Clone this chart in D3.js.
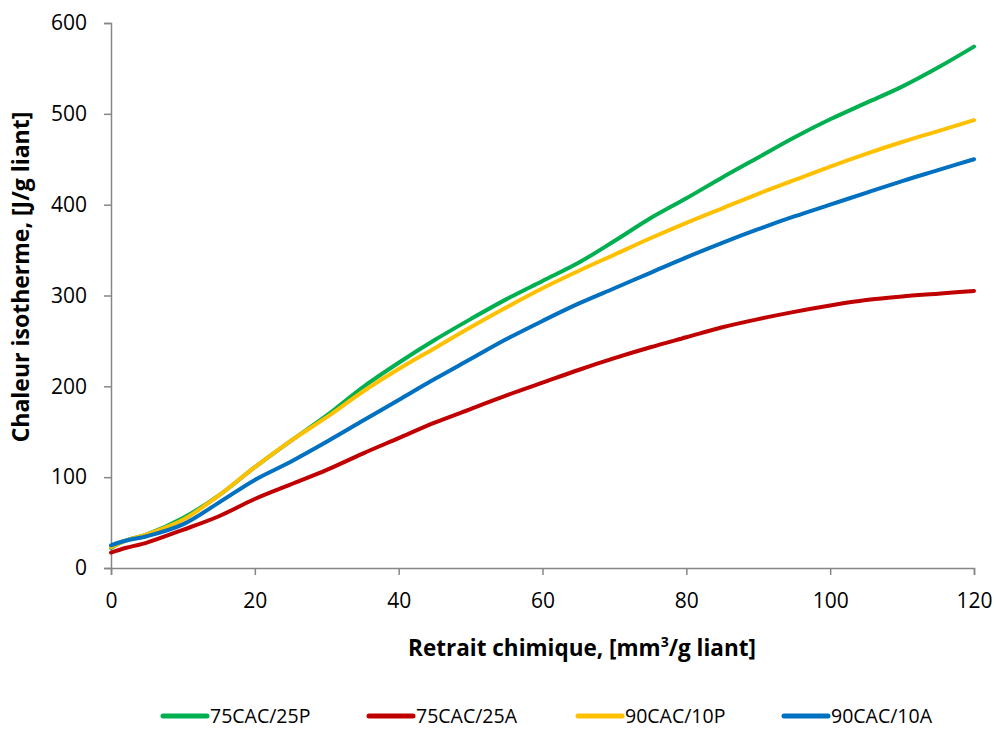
<!DOCTYPE html>
<html>
<head>
<meta charset="utf-8">
<script src="https://cdn.jsdelivr.net/npm/d3@7"></script>
<style>
  html, body { margin: 0; padding: 0; background: #fff; }
  svg { display: block; }
  text { font-family: "Open Sans", "Noto Sans", sans-serif; fill: #000; }
</style>
</head>
<body>
<svg id="chart" width="997" height="729"></svg>
<script>
const xValues = [0, 2, 5, 10, 15, 20, 25, 30, 35, 40, 45, 50, 55, 60, 65, 70, 75, 80, 85, 90, 95, 100, 105, 110, 115, 120];
const green75P  = [22, 30, 37, 55, 80, 111, 140, 168, 199, 226, 251, 274, 296, 316, 336, 360, 385, 407, 430, 452, 474, 494, 512, 530, 551, 574];
const red75A    = [17, 22, 28, 42, 57, 76, 92, 108, 126, 143, 160, 175, 190, 204, 218, 231, 243, 254, 265, 274, 282, 289, 295, 299, 302, 305];
const yellow90P = [23, 30, 37, 53, 80, 111, 140, 166, 194, 219, 242, 265, 287, 308, 327, 345, 363, 380, 396, 412, 427, 442, 456, 469, 481, 493];
const blue90A   = [25, 30, 35, 48, 72, 97, 117, 139, 162, 185, 208, 230, 252, 272, 291, 308, 325, 342, 358, 373, 387, 400, 413, 426, 438, 450];
const seriesNames = ["75CAC/25P", "75CAC/25A", "90CAC/10P", "90CAC/10A"];
const seriesColors = ["#00B050", "#C00000", "#FFC000", "#0070C0"];
const xTicks = [0, 20, 40, 60, 80, 100, 120];
const yTicks = [0, 100, 200, 300, 400, 500, 600];

(function () {
const seriesValues = [green75P, red75A, yellow90P, blue90A];
const series = seriesNames.map((name, i) => ({
  name, color: seriesColors[i],
  points: xValues.map((xv, j) => ({x: xv, y: seriesValues[i][j]}))
}));

const svg = d3.select("#chart");
const mLeft = 111, mRight = 974, mTop = 23, mBottom = 568;

const x = d3.scaleLinear().domain([0, 120]).range([mLeft, mRight]);
const y = d3.scaleLinear().domain([0, 600]).range([mBottom, mTop]);

const axisColor = "#868686";

const xAxis = svg.append("g").attr("transform", `translate(0,${mBottom})`)
  .call(d3.axisBottom(x).tickValues(xTicks).tickSize(7).tickPadding(18).tickFormat(d3.format("d")));
const yAxis = svg.append("g").attr("transform", `translate(${mLeft},0)`)
  .call(d3.axisLeft(y).tickValues(yTicks).tickSize(7).tickPadding(17).tickFormat(d3.format("d")));

[xAxis, yAxis].forEach(g => {
  g.select(".domain").attr("stroke", axisColor).attr("stroke-width", 1.5);
  g.selectAll(".tick line").attr("stroke", axisColor).attr("stroke-width", 1.5);
  g.selectAll(".tick text").attr("font-size", 21).attr("fill", "#000")
    .style("font-family", '"Open Sans", sans-serif');
});

const line = d3.line().x(d => x(d.x)).y(d => y(d.y)).curve(d3.curveCatmullRom.alpha(0.5));

svg.append("g").selectAll("path").data(series).join("path")
  .attr("d", d => line(d.points))
  .attr("fill", "none")
  .attr("stroke", d => d.color)
  .attr("stroke-width", 4)
  .attr("stroke-linecap", "round")
  .attr("stroke-linejoin", "round");

// Axis titles
const xt = svg.append("text")
  .attr("x", 582)
  .attr("y", 656)
  .attr("text-anchor", "middle")
  .attr("font-size", 22.5)
  .attr("font-weight", "bold");
xt.append("tspan").text("Retrait chimique, [mm");
xt.append("tspan").text("3").attr("font-size", 14).attr("dy", -9);
xt.append("tspan").text("/g liant]").attr("dy", 9);

svg.append("text")
  .attr("transform", `translate(29,277) rotate(-90)`)
  .attr("text-anchor", "middle")
  .attr("font-size", 23)
  .attr("font-weight", "bold")
  .text("Chaleur isotherme, [J/g liant]");

// Legend
const legendX = [163, 369, 578, 784];
const legendY = 716;
const lg = svg.append("g").selectAll("g").data(series).join("g")
  .attr("transform", (d, i) => `translate(${legendX[i]},${legendY})`);
lg.append("line").attr("x1", 0).attr("x2", 44).attr("y1", 0).attr("y2", 0)
  .attr("stroke", d => d.color).attr("stroke-width", 5).attr("stroke-linecap", "round");
lg.append("text").attr("x", 47).attr("y", 0).attr("dy", "0.35em")
  .attr("font-size", 19.5).text(d => d.name);
})();
</script>
</body>
</html>
